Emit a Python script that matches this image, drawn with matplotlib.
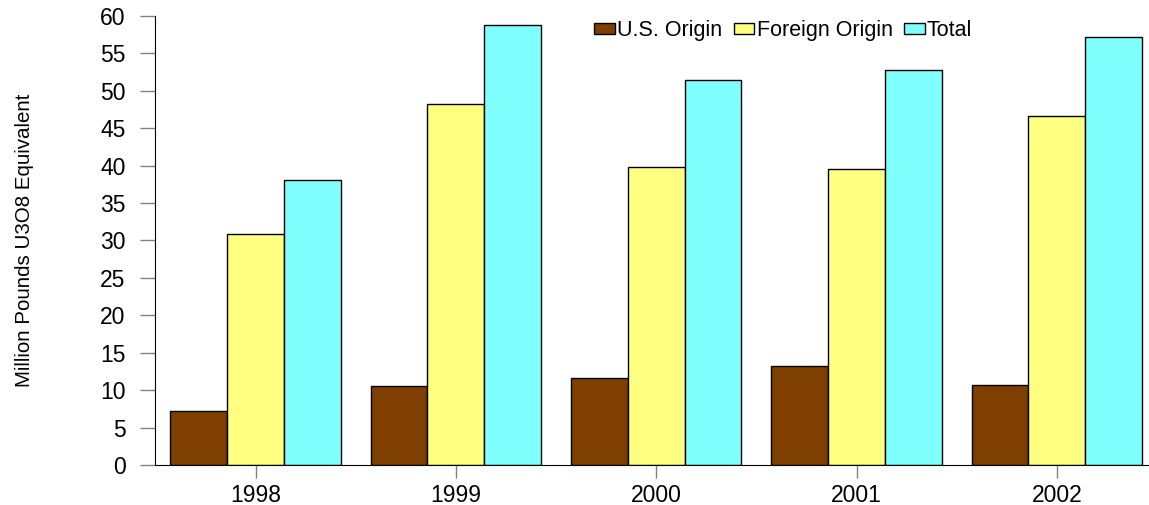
import matplotlib
matplotlib.use("Agg")
import matplotlib.pyplot as plt
import numpy as np

years = ["1998", "1999", "2000", "2001", "2002"]
us_origin = [7.3, 10.6, 11.6, 13.2, 10.7]
foreign_origin = [30.8, 48.2, 39.8, 39.5, 46.6]
total = [38.1, 58.8, 51.4, 52.7, 57.2]
series_names = ["U.S. Origin", "Foreign Origin", "Total"]
colors = ["#7F3F00", "#FFFF80", "#80FFFF"]
y_ticks = list(range(0, 61, 5))

plt.rcParams['font.family'] = ['Liberation Sans', 'DejaVu Sans']

fig = plt.figure(figsize=(11.49, 5.05), dpi=100)
ax = fig.add_axes([0.1352, 0.0786, 1 - 0.1352, 0.969 - 0.0786])

x = np.arange(len(years))
w = 0.283
for i, (vals, name, c) in enumerate(zip([us_origin, foreign_origin, total], series_names, colors)):
    ax.bar(x + (i - 1) * w, vals, width=w, color=c, edgecolor='black', linewidth=1.0, label=name)

ax.set_xlim(-0.5, 4.46)
ax.set_ylim(0, 60)
ax.set_xticks(x)
ax.set_xticklabels(years)
ax.set_yticks(y_ticks)
ax.set_yticklabels([str(t) for t in y_ticks])

for s in ['top', 'right']:
    ax.spines[s].set_visible(False)
ax.spines['left'].set_color('black')
ax.spines['bottom'].set_color('black')
ax.tick_params(axis='y', length=11, width=1, color='#808080', pad=10.5, labelsize=16.5)
ax.tick_params(axis='x', length=9, width=1, color='#808080', pad=4.5, labelsize=16.5)

ax.set_ylabel("Million Pounds U3O8 Equivalent", fontsize=14.8)
ax.yaxis.set_label_coords(-0.122, 0.5)

ax.legend(loc='center', bbox_to_anchor=(0.632, 0.966), ncol=3, frameon=False,
          fontsize=15.5, handlelength=0.95, handleheight=0.42, handletextpad=0.1,
          columnspacing=0.55, borderpad=0, borderaxespad=0)

fig.savefig("out.png", dpi=100)
